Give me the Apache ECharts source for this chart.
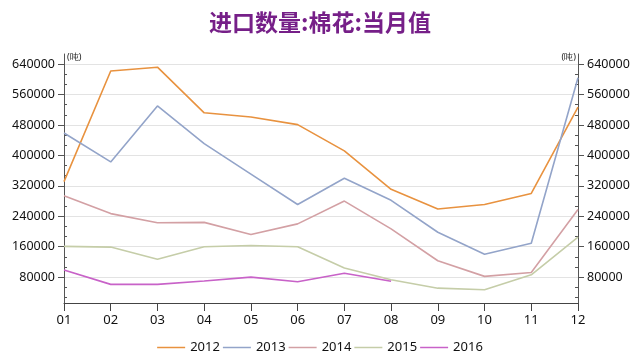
<!DOCTYPE html>
<html>
<head>
<meta charset="utf-8">
<script src="https://cdn.jsdelivr.net/npm/echarts@6/dist/echarts.min.js"></script>
<style>html,body{margin:0;padding:0;background:#fff}#c{width:640px;height:359px}</style>
</head>
<body>
<div id="c"></div>
<script>
const titleText = '进口数量:棉花:当月值';
const unitText = '(吨)';
const months = ['01','02','03','04','05','06','07','08','09','10','11','12'];
const seriesNames = ['2012','2013','2014','2015','2016'];
const s2012 = [331000, 622000, 632000, 512000, 501000, 481000, 412000, 311000, 259000, 271000, 300000, 527000];
const s2013 = [459000, 383000, 530000, 431000, 351000, 271000, 340000, 282000, 198000, 140000, 169000, 604000];
const s2014 = [294000, 247000, 223000, 224000, 192000, 220000, 280000, 207000, 123000, 82000, 92000, 258000];
const s2015 = [161000, 159000, 127000, 160000, 163000, 160000, 104000, 73000, 51000, 47000, 86000, 185000];
const s2016 = [99000, 61000, 61000, 70000, 80000, 68000, 90000, 69000];
const majorTicks = [80000, 160000, 240000, 320000, 400000, 480000, 560000, 640000];
const minorTicks = [26667, 53333, 106667, 133333, 186667, 213333, 266667, 293333, 346667, 373333, 426667, 453333, 506667, 533333, 586667, 613333];
const colors = ['#E8923F', '#93A4C9', '#D3A0A4', '#C5CDA8', '#C862C8'];

const yMin = 12000, yMax = 666667;
const font = 'Noto Sans';

function majorAxis(pos) {
  return {
    type: 'value', position: pos, min: yMin, max: yMax,
    name: unitText, nameLocation: 'end', nameGap: -3,
    nameTextStyle: { fontSize: 9, color: '#222', fontFamily: font, align: pos === 'left' ? 'left' : 'right', verticalAlign: 'middle', padding: pos === 'left' ? [0, 0, 0, 3] : [0, 2, 0, 0] },
    axisLine: { show: true, lineStyle: { color: '#555', width: 1 } },
    axisTick: { show: true, inside: false, length: 6, customValues: majorTicks, lineStyle: { color: '#555' } },
    axisLabel: { show: true, customValues: majorTicks, margin: 9, fontSize: 12.5, color: '#111', fontFamily: font, formatter: v => String(Math.round(v)) },
    splitLine: { show: pos === 'left', lineStyle: { color: '#E3E3E3', width: 1 } }
  };
}
function minorAxis(pos) {
  return {
    type: 'value', position: pos, min: yMin, max: yMax,
    axisLine: { show: false },
    axisTick: { show: true, inside: true, length: 3, customValues: minorTicks, lineStyle: { color: '#555' } },
    axisLabel: { show: false },
    splitLine: { show: false }
  };
}

const seriesData = [s2012, s2013, s2014, s2015, s2016];
const chart = echarts.init(document.getElementById('c'), null, { renderer: 'canvas' });
chart.setOption({
  animation: false,
  backgroundColor: '#fff',
  color: colors,
  title: {
    text: titleText, left: 'center', top: 6,
    textStyle: { fontSize: 23, fontWeight: 'bold', color: '#761F88', fontFamily: 'Noto Sans CJK SC' }
  },
  legend: {
    data: seriesNames, bottom: 0, left: 'center', itemGap: 3,
    icon: 'rect', itemWidth: 28, itemHeight: 1.5,
    textStyle: { fontSize: 13, color: '#111', fontFamily: font }
  },
  grid: { left: 64, right: 62, top: 54, bottom: 56, containLabel: false },
  xAxis: {
    type: 'category', data: months, boundaryGap: false,
    axisLine: { lineStyle: { color: '#444', width: 1 } },
    axisTick: { show: true, length: 8, alignWithLabel: true, lineStyle: { color: '#444' } },
    axisLabel: { margin: 11, fontSize: 13, color: '#111', fontFamily: font },
    splitLine: { show: false }
  },
  yAxis: [majorAxis('left'), majorAxis('right'), minorAxis('left'), minorAxis('right')],
  series: seriesData.map((d, i) => ({
    name: seriesNames[i], type: 'line', data: d, yAxisIndex: 0,
    showSymbol: false, symbol: 'none',
    lineStyle: { width: 1.6, color: colors[i] },
    itemStyle: { color: colors[i] }
  }))
});
</script>
</body>
</html>
